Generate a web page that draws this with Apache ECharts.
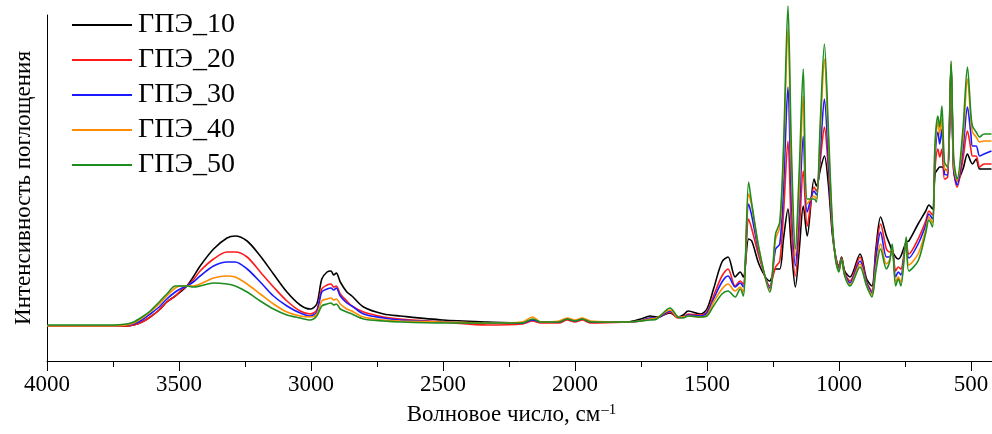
<!DOCTYPE html>
<html><head><meta charset="utf-8">
<script src="https://cdn.jsdelivr.net/npm/echarts@6/dist/echarts.min.js"></script>
<style>html,body{margin:0;padding:0;background:#fff}#c{width:992px;height:434px}</style>
</head><body><div id="c"></div>
<script>
const wavenumbers = [4000,3750,3700,3672,3640,3609,3575,3546,3514,3495,
3470,3446,3420,3369,3318,3287,3242,3192,3142,3091,
3041,3003,2978,2959,2939,2924,2914,2904,2889,2864,
2845,2801,2725,2662,2500,2330,2200,2160,2130,2060,
2030,2000,1972,1940,1800,1750,1715,1690,1640,1610,
1590,1571,1525,1500,1475,1443,1420,1393,1374,1362,
1342,1330,1300,1262,1240,1224,1210,1193,1180,1165,
1150,1135,1120,1094,1085,1070,1055,1040,1025,1012,
1000,990,978,958,920,895,875,860,842,820,
808,798,785,775,765,745,735,700,671,659,
645,636,625,618,610,600,588,575,565,552,
530,513,500,494,480,467,450,422];

const gpe10 = [35,35,35,36,39,44,51,59,65,69,
75,84,95,112,123,125,120,105,87,69,
56,52,57,82,89,90,86,88,79,69,
65,54,47,45,41,39,38,41,39,39,
42,40,42,39,39,42,45,44,48,44,
46,50,47,52,72,99,104,84,89,84,
122,120,95,80,92,92,122,152,112,74,
112,155,125,182,175,192,205,177,127,104,
95,104,90,84,107,82,75,112,144,125,
117,110,104,102,105,119,120,137,150,156,
152,187,192,194,194,192,190,292,190,180,
192,207,199,197,202,192,192,192];

const gpe20 = [35,35,35,36,39,44,51,59,65,70,
75,81,90,102,109,109,104,89,74,60,
50,47,51,72,76,77,74,75,67,60,
55,49,44,42,39,36,37,40,38,38,
41,39,41,38,39,40,43,43,49,43,
44,47,46,49,65,85,92,75,80,77,
142,132,102,75,94,100,147,220,132,85,
132,190,135,174,170,202,234,192,132,103,
94,103,88,80,104,79,70,107,137,112,
109,110,90,94,92,119,107,122,140,150,
146,192,212,204,212,182,184,294,190,174,
202,230,212,205,205,194,197,197];

const gpe30 = [35,35,36,37,41,47,54,62,69,72,
75,79,85,95,99,99,92,79,65,55,
48,45,49,69,72,73,71,73,65,58,
55,47,43,41,39,38,38,41,39,39,
42,40,42,39,39,40,43,43,50,44,
44,46,45,48,62,79,85,74,78,74,
157,145,105,73,112,117,172,274,162,95,
152,225,149,170,166,212,262,202,134,102,
92,102,87,78,100,78,68,102,129,104,
104,112,84,89,86,120,103,117,136,147,
142,202,229,217,232,187,186,296,192,176,
212,254,227,215,215,205,207,210];

const gpe40 = [35,35,36,38,43,49,57,65,73,75,
75,75,77,83,85,84,77,67,57,49,
45,44,47,60,62,63,61,62,57,52,
50,44,41,40,39,38,39,44,39,40,
43,41,43,40,39,40,42,43,51,44,
44,45,44,46,59,72,77,70,74,69,
167,155,107,71,122,134,202,332,192,105,
172,265,157,165,162,232,302,222,137,101,
90,102,86,76,97,76,66,94,117,97,
101,114,79,84,79,122,96,107,131,144,
138,212,239,227,242,192,190,298,196,180,
222,282,242,229,224,219,220,220];

const gpe50 = [36,36,37,39,44,50,59,67,75,75,
75,74,75,78,77,75,69,60,52,46,
43,41,45,55,57,58,56,57,52,49,
47,42,40,39,38,38,38,42,39,39,
42,40,42,39,39,40,41,42,53,44,
43,45,44,45,55,67,70,64,72,65,
179,157,109,69,127,139,212,355,212,112,
192,292,162,162,159,242,317,232,140,100,
89,102,85,75,94,75,64,90,112,92,
99,117,75,82,75,124,90,100,128,141,
134,217,245,234,255,199,194,300,202,182,
232,294,247,235,229,224,227,227];

const seriesNames = ['ГПЭ_10','ГПЭ_20','ГПЭ_30','ГПЭ_40','ГПЭ_50'];
const seriesValues = [gpe10, gpe20, gpe30, gpe40, gpe50];
const seriesColors = ['#000000','#ff1a1a','#1a1aff','#ff8c00','#1e8c1e'];
const majorTicks = [500,1000,1500,2000,2500,3000,3500,4000];
const minorTicks = [750,1250,1750,2250,2750,3250,3750];
const xName = 'Волновое число, см';
const xNameSup = '–1';
const yName = 'Интенсивность поглощения';

const FONT = 'Liberation Serif, Times New Roman, serif';
const chart = echarts.init(document.getElementById('c'), null, {renderer:'canvas'});
const series = seriesNames.map((n,i)=>({
  name:n, type:'line', xAxisIndex:0, yAxisIndex:0,
  data: wavenumbers.map((w,k)=>[w, seriesValues[i][k]]),
  symbol:'none', smooth:0.3, clip:false,
  lineStyle:{color:seriesColors[i], width:1.6},
  itemStyle:{color:seriesColors[i]}
}));
chart.setOption({
  animation:false,
  backgroundColor:'#fff',
  grid:{left:47, right:0, top:15, bottom:73},
  legend:{
    orient:'vertical', left:72, top:11, padding:0,
    icon:'rect', itemWidth:60, itemHeight:2, itemGap:7,
    textStyle:{fontFamily:FONT, fontSize:28, color:'#000', padding:[0,0,0,1]},
    data:seriesNames
  },
  xAxis:[{
    type:'value', inverse:true, min:420, max:4000,
    axisLine:{show:true, lineStyle:{color:'#000', width:1}},
    axisTick:{show:true, length:10, customValues:majorTicks, lineStyle:{color:'#000', width:1}},
    axisLabel:{customValues:majorTicks, color:'#000', fontFamily:FONT, fontSize:23, margin:12,
      formatter:(v)=>String(v)},
    splitLine:{show:false},
    name:'{a|'+xName+'}{s|'+xNameSup+'}', nameLocation:'middle', nameGap:42,
    nameTextStyle:{
      fontFamily:FONT, fontSize:23, color:'#000', padding:[0,16,0,0],
      rich:{
        a:{fontFamily:FONT, fontSize:23, color:'#000'},
        s:{fontFamily:FONT, fontSize:15, color:'#000', verticalAlign:'top', padding:[0,0,9,1]}
      }
    }
  },{
    type:'value', inverse:true, min:420, max:4000, position:'bottom',
    axisLine:{show:false},
    axisTick:{show:true, length:6, customValues:minorTicks, lineStyle:{color:'#000', width:1}},
    axisLabel:{show:false}, splitLine:{show:false}
  }],
  yAxis:{
    type:'value', min:0, max:346,
    axisLine:{show:true, lineStyle:{color:'#000', width:1}},
    axisTick:{show:false}, axisLabel:{show:false}, splitLine:{show:false},
    name:yName, nameLocation:'middle', nameRotate:90, nameGap:12,
    nameTextStyle:{fontFamily:FONT, fontSize:23, color:'#000'}
  },
  series:series
});
</script></body></html>
